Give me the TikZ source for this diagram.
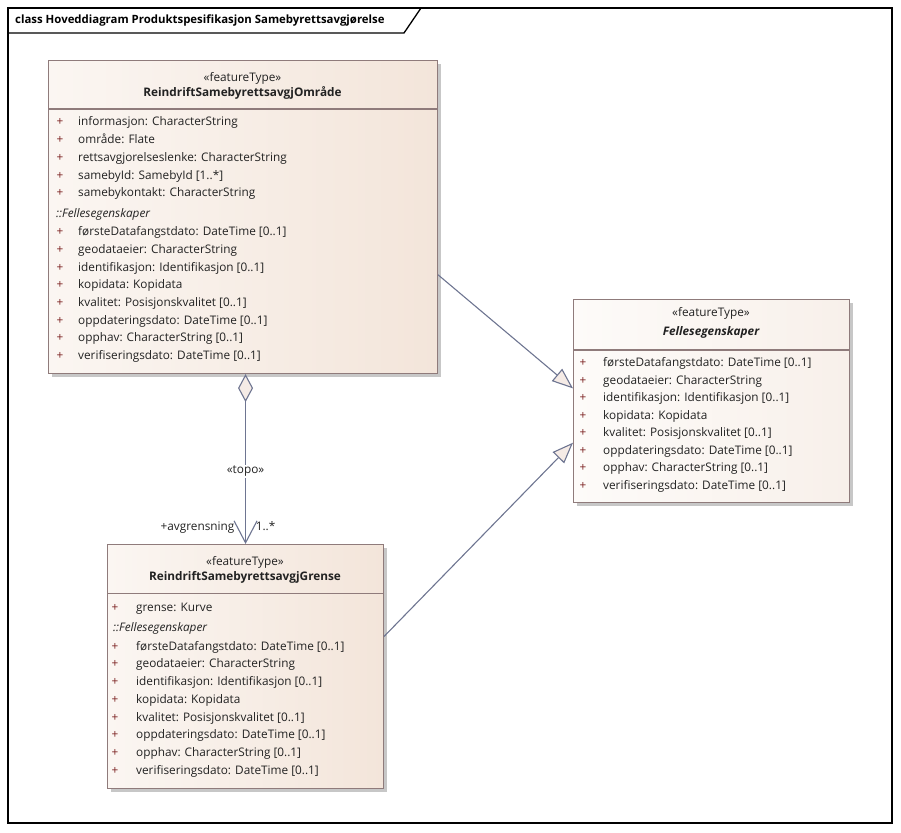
\documentclass[tikz,border=0pt]{standalone}
\usepackage{fontspec}
\setmainfont{Open Sans}
\usetikzlibrary{arrows.meta,calc,shadows}

\definecolor{umlline}{HTML}{6E7591}
\definecolor{umlborder}{HTML}{8F7B7B}
\definecolor{umlplus}{HTML}{7A1F1F}
\definecolor{umltext}{HTML}{222222}
\definecolor{tipfill}{HTML}{F5EBE6}
\definecolor{boxleft}{HTML}{FBF6F2}
\definecolor{boxright}{HTML}{F3E5DA}
\definecolor{fellesleft}{HTML}{FDFBF9}
\definecolor{fellesright}{HTML}{F8F0EA}

\newcommand{\umlfont}{\fontsize{11.8}{13}\selectfont}
\newcommand{\titlefont}{\fontsize{11.4}{13}\selectfont}

\tikzset{
  classbox/.style={draw=umlborder, line width=1.1pt, anchor=north west, inner sep=0pt,
    left color=boxleft, right color=boxright,
    drop shadow={shadow xshift=3.5pt, shadow yshift=-3.5pt, fill=black!22, opacity=1}},
  sepline/.style={draw=umlborder, line width=1.1pt},
  plus/.style={anchor=mid, inner sep=0pt, text=umlplus, font=\umlfont},
  attr/.style={anchor=mid west, inner sep=0pt, text=umltext, font=\umlfont},
  head/.style={anchor=mid, inner sep=0pt, text=umltext, font=\umlfont},
  gen/.style={draw=umlline, line width=1.1pt, -{Triangle[fill=tipfill, length=21pt, width=16pt]}},
  aggr/.style={draw=umlline, line width=1.1pt,
    {Diamond[fill=tipfill, length=28pt, width=15pt]}-{Straight Barb[length=22pt, width=23pt]}},
  rolelabel/.style={inner sep=0pt, text=umltext, font=\umlfont}
}

\begin{document}
\begin{tikzpicture}[x=1pt, y=-1pt]
  \useasboundingbox (0,0) rectangle (901,832);
  % frame
  \draw[line width=1.3pt] (8,8) rectangle (892,823);
  \draw[line width=1.3pt] (8,33) -- (404,33) -- (421,8);
  \node[anchor=mid west, inner sep=0pt, font=\titlefont\bfseries] (title) at (15,20.5)
    {class Hoveddiagram Produktspesifikasjon Samebyrettsavgjørelse};

  % ReindriftSamebyrettsavgjOmråde
  \node[classbox, minimum width=389pt, minimum height=313pt] (omr) at (48,60) {};
  \draw[sepline] (omr.west |- 0,109) -- (omr.east |- 0,109);
  \node[head] (omrst) at (242.5,79.3) {«featureType»};
  \node[head, font=\umlfont\bfseries] (omrname) at (242.5,94.3) {ReindriftSamebyrettsavgjOmråde};
  \foreach \t [count=\i] in {informasjon: CharacterString, område: Flate,
      rettsavgjorelseslenke: CharacterString, {samebyId: SamebyId [1..*]},
      samebykontakt: CharacterString} {
    \node[plus] (omrp\i) at (60,{123.3+17.7*(\i-1)}) {+};
    \node[attr] (omra\i) at (78,{123.3+17.7*(\i-1)}) {\t};
  }
  \node[attr, font=\umlfont\itshape] (omrf) at (56,215) {::Fellesegenskaper};
  \foreach \t [count=\i] in {{førsteDatafangstdato: DateTime [0..1]}, geodataeier: CharacterString,
      {identifikasjon: Identifikasjon [0..1]}, kopidata: Kopidata,
      {kvalitet: Posisjonskvalitet [0..1]}, {oppdateringsdato: DateTime [0..1]},
      {opphav: CharacterString [0..1]}, {verifiseringsdato: DateTime [0..1]}} {
    \node[plus] (omrfp\i) at (60,{233+17.7*(\i-1)}) {+};
    \node[attr] (omrfa\i) at (78,{233+17.7*(\i-1)}) {\t};
  }

  % Fellesegenskaper
  \node[classbox, left color=fellesleft, right color=fellesright,
    minimum width=276pt, minimum height=203pt] (felles) at (573,299) {};
  \draw[sepline] (felles.west |- 0,350) -- (felles.east |- 0,350);
  \node[head] (fellesst) at (711,313.5) {«featureType»};
  \node[head, font=\umlfont\bfseries\itshape] (fellesname) at (711,333) {Fellesegenskaper};
  \foreach \t [count=\i] in {{førsteDatafangstdato: DateTime [0..1]}, geodataeier: CharacterString,
      {identifikasjon: Identifikasjon [0..1]}, kopidata: Kopidata,
      {kvalitet: Posisjonskvalitet [0..1]}, {oppdateringsdato: DateTime [0..1]},
      {opphav: CharacterString [0..1]}, {verifiseringsdato: DateTime [0..1]}} {
    \node[plus] (fellesp\i) at (583,{364+17.5*(\i-1)}) {+};
    \node[attr] (fellesa\i) at (603,{364+17.5*(\i-1)}) {\t};
  }

  % ReindriftSamebyrettsavgjGrense
  \node[classbox, minimum width=276pt, minimum height=244pt] (grense) at (107,544) {};
  \draw[sepline] (grense.west |- 0,593.5) -- (grense.east |- 0,593.5);
  \node[head] (grensest) at (245,562.7) {«featureType»};
  \node[head, font=\umlfont\bfseries] (grensename) at (245,577.5) {ReindriftSamebyrettsavgjGrense};
  \node[plus] (grensep) at (115,609.3) {+};
  \node[attr] (grensea) at (136,609.3) {grense: Kurve};
  \node[attr, font=\umlfont\itshape] (grensef) at (113,629.3) {::Fellesegenskaper};
  \foreach \t [count=\i] in {{førsteDatafangstdato: DateTime [0..1]}, geodataeier: CharacterString,
      {identifikasjon: Identifikasjon [0..1]}, kopidata: Kopidata,
      {kvalitet: Posisjonskvalitet [0..1]}, {oppdateringsdato: DateTime [0..1]},
      {opphav: CharacterString [0..1]}, {verifiseringsdato: DateTime [0..1]}} {
    \node[plus] (grensefp\i) at (115,{647.5+17.75*(\i-1)}) {+};
    \node[attr] (grensefa\i) at (136,{647.5+17.75*(\i-1)}) {\t};
  }

  % connectors
  \draw[gen] ($(omr.north east)!0.684!(omr.south east)$) -- ($(felles.north west)!0.438!(felles.south west)$);
  \draw[gen] ($(grense.north east)!0.377!(grense.south east)$) -- ($(felles.north west)!0.704!(felles.south west)$);
  \draw[aggr] (grense.north |- omr.south) -- node[pos=0.573, fill=white, inner sep=1pt, text=umltext, font=\umlfont] (topo) {«topo»} (grense.north);
  \node[rolelabel, anchor=mid east] (avgr) at ([xshift=-11pt, yshift=16pt]grense.north) {+avgrensning};
  \node[rolelabel, anchor=mid west] (mult) at ([xshift=10pt, yshift=16pt]grense.north) {1..*};
\end{tikzpicture}
\end{document}
